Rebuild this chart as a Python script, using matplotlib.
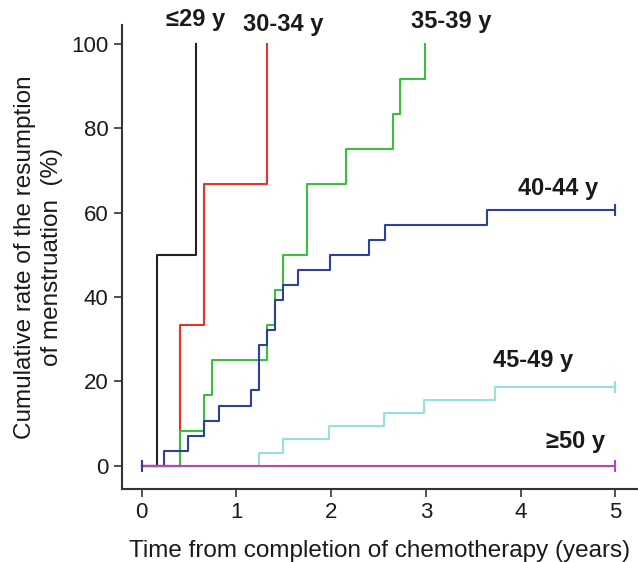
import matplotlib
matplotlib.use("Agg")
import matplotlib.pyplot as plt

plt.rcParams['font.family'] = ['Liberation Sans', 'DejaVu Sans']

# event times (years) and cumulative rate (%) for each age group
t_29 = [0, 0.16, 0.57]
r_29 = [0, 50, 100]

t_30 = [0, 0.40, 0.655, 1.32]
r_30 = [0, 33.3, 66.7, 100]

t_35 = [0, 0.40, 0.655, 0.737, 1.32, 1.41, 1.49, 1.74, 2.16, 2.65, 2.73, 2.99]
r_35 = [0, 8.3, 16.7, 25, 33.3, 41.7, 50, 66.7, 75, 83.3, 91.7, 100]

t_40 = [0, 0.24, 0.49, 0.655, 0.82, 1.15, 1.24, 1.32, 1.41, 1.49, 1.65, 1.99,
        2.40, 2.57, 3.65, 5.0]
r_40 = [0, 3.6, 7.1, 10.7, 14.3, 17.9, 28.6, 32.1, 39.3, 42.9, 46.4, 50,
        53.6, 57.1, 60.7, 60.7]

t_45 = [0, 1.24, 1.49, 1.98, 2.56, 2.98, 3.73, 5.0]
r_45 = [0, 3.1, 6.3, 9.4, 12.5, 15.6, 18.8, 18.8]

t_50 = [0, 5.0]
r_50 = [0, 0]

labels = ["≤29 y", "30-34 y", "35-39 y", "40-44 y", "45-49 y", "≥50 y"]
colors = ["#222222", "#e8322a", "#3cbf3c", "#2e3f9e", "#94e2da", "#b945b9"]
label_pos = [(0.57, 105.7), (1.49, 104.5), (3.27, 105.2), (4.40, 65.6), (4.13, 24.9), (4.58, 5.9)]

fig = plt.figure(figsize=(6.38, 5.62), dpi=100)
ax = fig.add_axes([0.191, 0.130, 0.809, 0.826])

series = [(t_29, r_29), (t_30, r_30), (t_35, r_35), (t_40, r_40), (t_45, r_45), (t_50, r_50)]
for i, ((t, r), c) in enumerate(zip(series, colors)):
    ax.step(t, r, where="post", color=c, lw=1.5, zorder=3 + (i == 5))

# censor marks
ax.plot([0], [0], marker="|", ms=9, mew=1.5, color=colors[3], zorder=5)
ax.plot([5.0], [r_40[-1]], marker="|", ms=9, mew=1.5, color=colors[3], zorder=5)
ax.plot([5.0], [r_45[-1]], marker="|", ms=9, mew=1.5, color=colors[4], zorder=5)
ax.plot([5.0], [0], marker="|", ms=9, mew=1.5, color=colors[5], zorder=5)

for lab, (x, y) in zip(labels, label_pos):
    ax.text(x, y, lab, fontsize=17, fontweight="bold", ha="center", va="center",
            color="#1a1a1a", clip_on=False)

ax.set_xlim(-0.21, 5.24)
ax.set_ylim(-5.45, 104.5)
ax.set_xticks([0, 1, 2, 3, 4, 5])
ax.set_yticks([0, 20, 40, 60, 80, 100])
ax.tick_params(direction="out", length=6, width=1.2, labelsize=16, colors="#333333",
               labelcolor="#1a1a1a")
for s in ["top", "right"]:
    ax.spines[s].set_visible(False)
for s in ["left", "bottom"]:
    ax.spines[s].set_linewidth(1.5)
    ax.spines[s].set_color("#333333")

ax.set_xlabel("Time from completion of chemotherapy (years)", fontsize=17.5,
              labelpad=12, color="#1a1a1a")
ax.set_ylabel("Cumulative rate of the resumption\nof menstruation  (%)", fontsize=17.5,
              labelpad=6, color="#1a1a1a", linespacing=1.3)

plt.savefig("out.png", dpi=100)
